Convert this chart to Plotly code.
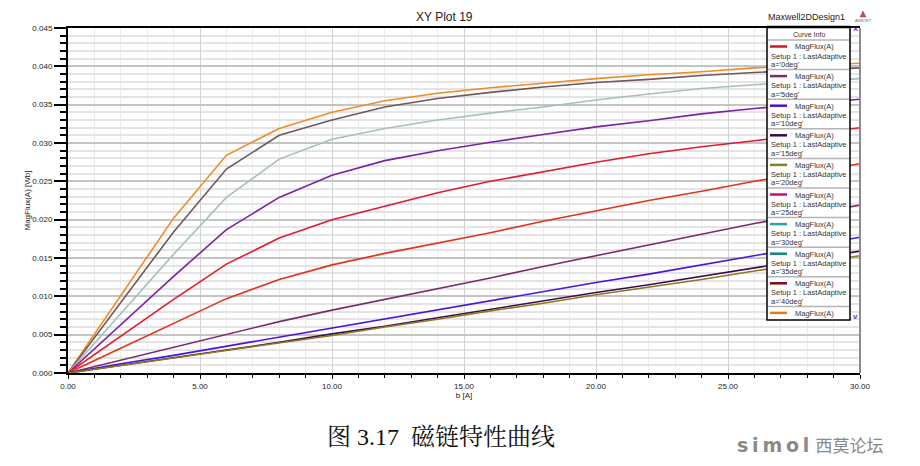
import plotly.graph_objects as go

# ---------------- data ----------------
current_A = [0, 2, 4, 6, 8, 10, 12, 14, 16, 18, 20, 22, 24, 26, 28, 30]

flux_45deg = [0, 0.0101, 0.0202, 0.0284, 0.0319, 0.0340, 0.0355, 0.0365, 0.0372, 0.0378, 0.0384, 0.0389, 0.0393, 0.0398, 0.0401, 0.0404]
flux_40deg = [0, 0.0092, 0.0184, 0.0266, 0.0310, 0.0330, 0.0347, 0.0358, 0.0366, 0.0373, 0.0379, 0.0383, 0.0388, 0.0392, 0.0395, 0.0398]
flux_35deg = [0, 0.0078, 0.0155, 0.0229, 0.0279, 0.0305, 0.0319, 0.0330, 0.0339, 0.0347, 0.0356, 0.0364, 0.0371, 0.0376, 0.0380, 0.0384]
flux_30deg = [0, 0.0063, 0.0126, 0.0187, 0.0229, 0.0258, 0.0277, 0.0290, 0.0301, 0.0311, 0.0321, 0.0329, 0.0338, 0.0345, 0.0351, 0.0357]
flux_0deg = [0, 0.0048, 0.0096, 0.0142, 0.0176, 0.0200, 0.0218, 0.0235, 0.0250, 0.0263, 0.0275, 0.0286, 0.0295, 0.0303, 0.0311, 0.0320]
flux_25deg = [0, 0.0032, 0.0065, 0.0097, 0.0122, 0.0141, 0.0156, 0.0169, 0.0183, 0.0198, 0.0212, 0.0225, 0.0237, 0.0250, 0.0262, 0.0273]
flux_5deg = [0, 0.0017, 0.0034, 0.0051, 0.0067, 0.0082, 0.0096, 0.0110, 0.0124, 0.0139, 0.0153, 0.0167, 0.0181, 0.0195, 0.0207, 0.0219]
flux_10deg = [0, 0.0012, 0.0023, 0.0035, 0.0047, 0.0058, 0.0070, 0.0082, 0.0094, 0.0106, 0.0118, 0.0129, 0.0141, 0.0153, 0.0165, 0.0177]
flux_15deg = [0, 0.0010, 0.0020, 0.0030, 0.0040, 0.0051, 0.0061, 0.0072, 0.0083, 0.0094, 0.0105, 0.0115, 0.0126, 0.0137, 0.0148, 0.0159]
flux_20deg = [0, 0.00098, 0.0020, 0.0029, 0.0039, 0.0049, 0.0060, 0.0070, 0.0081, 0.0091, 0.0102, 0.0112, 0.0122, 0.0133, 0.0143, 0.0153]

series_names = ["a='45deg'", "a='40deg'", "a='35deg'", "a='30deg'", "a='0deg'",
                "a='25deg'", "a='5deg'", "a='10deg'", "a='15deg'", "a='20deg'"]
series_values = [flux_45deg, flux_40deg, flux_35deg, flux_30deg, flux_0deg,
                 flux_25deg, flux_5deg, flux_10deg, flux_15deg, flux_20deg]
series_colors = ["#f08a28", "#6e5858", "#a6bebe", "#7a22a4", "#e41a2e",
                 "#e23418", "#7c2c6c", "#4a14e0", "#3e0c4c", "#8c7a22"]

# legend (Curve Info) entries as shown in the reference box
legend_labels = ["a='0deg'", "a='5deg'", "a='10deg'", "a='15deg'", "a='20deg'",
                 "a='25deg'", "a='30deg'", "a='35deg'", "a='40deg'", ""]
legend_colors = ["#d01424", "#7c2c5c", "#4a10d0", "#3c0a4c", "#828222",
                 "#c8107c", "#28a4a4", "#148484", "#800a14", "#e87818"]

x_ticks = [0, 5, 10, 15, 20, 25, 30]
y_ticks = [0.000, 0.005, 0.010, 0.015, 0.020, 0.025, 0.030, 0.035, 0.040, 0.045]

# ---------------- layout helpers ----------------
W, H = 920, 466
L, R, T, B = 68, 860, 28, 373


def px(x):
    return (x - L) / (R - L)


def py(y):
    return (B - y) / (B - T)


fig = go.Figure()
for name, vals, col in zip(series_names, series_values, series_colors):
    fig.add_trace(go.Scatter(x=current_A, y=vals, mode="lines", name=name,
                             line=dict(color=col, width=1.6), showlegend=False))

font_main = "Liberation Sans, Arial, sans-serif"

fig.update_layout(
    width=W, height=H,
    margin=dict(l=L, r=W - R, t=T, b=H - B),
    paper_bgcolor="white", plot_bgcolor="white",
    font=dict(family=font_main, size=8, color="#222"),
    xaxis=dict(range=[0, 30], tickvals=x_ticks, tickformat=".2f",
               showgrid=True, gridcolor="#d2d2d2", gridwidth=1,
               showline=True, linecolor="black", linewidth=2, mirror=True,
               ticks="outside", ticklen=4, tickwidth=1, tickcolor="black",
               zeroline=False,
               minor=dict(dtick=1, showgrid=True, gridcolor="#ececec", gridwidth=1,
                          ticks="outside", ticklen=3, tickcolor="black", tickwidth=1),
               title=dict(text="b [A]", font=dict(size=8), standoff=2),
               tickfont=dict(size=8)),
    yaxis=dict(range=[0, 0.045], tickvals=y_ticks, tickformat=".3f",
               showgrid=True, gridcolor="#c4c4c4", gridwidth=2,
               showline=True, linecolor="black", linewidth=2,
               ticks="outside", ticklen=12, tickwidth=2, tickcolor="black",
               zeroline=False,
               minor=dict(dtick=0.001, showgrid=True, gridcolor="#e4e4e4", gridwidth=2,
                          ticks="outside", ticklen=6, tickcolor="black", tickwidth=2),
               title=dict(text="MagFlux(A) [Wb]", font=dict(size=8), standoff=1),
               tickfont=dict(size=8)),
)

shapes = []
annotations = []

# right plot border (gray)
shapes.append(dict(type="line", xref="paper", yref="paper", x0=1, x1=1, y0=0, y1=1,
                   line=dict(color="#8c8c8c", width=2)))

# Curve Info box
bx0, bx1, by0, by1 = 767, 850, 27, 320
shapes.append(dict(type="rect", xref="paper", yref="paper",
                   x0=px(bx0), x1=px(bx1), y0=py(by1), y1=py(by0),
                   fillcolor="white", line=dict(color="black", width=1.5)))
shapes.append(dict(type="line", xref="paper", yref="paper",
                   x0=px(bx0), x1=px(bx1), y0=py(by0), y1=py(by0),
                   line=dict(color="black", width=2.5)))
annotations.append(dict(text="Curve Info", xref="paper", yref="paper",
                        x=px((bx0 + bx1) / 2), y=py(34), showarrow=False,
                        font=dict(size=7, color="#333"), xanchor="center", yanchor="middle"))

seps = [40, 69.6, 99.2, 128.8, 158.4, 188.0, 217.6, 247.2, 276.8, 306.4]
for i, (lab, col) in enumerate(zip(legend_labels, legend_colors)):
    s = seps[i]
    shapes.append(dict(type="line", xref="paper", yref="paper",
                       x0=px(bx0 + 1), x1=px(bx1 - 1), y0=py(s), y1=py(s),
                       line=dict(color="#b4b4b4", width=1.5)))
    shapes.append(dict(type="line", xref="paper", yref="paper",
                       x0=px(770), x1=px(787), y0=py(s + 6.5), y1=py(s + 6.5),
                       line=dict(color=col, width=2.5)))
    annotations.append(dict(text="MagFlux(A)", xref="paper", yref="paper",
                            x=px(793), y=py(s + 7), showarrow=False,
                            font=dict(size=7.5, color="#333"), xanchor="left", yanchor="middle"))
    if lab:
        annotations.append(dict(text="Setup 1 : LastAdaptive", xref="paper", yref="paper",
                                x=px(769), y=py(s + 16), showarrow=False,
                                font=dict(size=7.5, color="#333"), xanchor="left", yanchor="middle"))
        annotations.append(dict(text=lab, xref="paper", yref="paper",
                                x=px(769), y=py(s + 24.5), showarrow=False,
                                font=dict(size=7.5, color="#333"), xanchor="left", yanchor="middle"))

# scroll arrows
annotations.append(dict(text="<b>×</b>", xref="paper", yref="paper", x=px(855), y=py(29),
                        showarrow=False, font=dict(size=9, color="#5a3cc0"),
                        xanchor="center", yanchor="middle"))
annotations.append(dict(text="<b>v</b>", xref="paper", yref="paper", x=px(855), y=py(316),
                        showarrow=False, font=dict(size=8, color="#5a3cc0"),
                        xanchor="center", yanchor="middle"))

# titles
annotations.append(dict(text="XY Plot 19", xref="paper", yref="paper",
                        x=px(444), y=py(17), showarrow=False,
                        font=dict(size=12, color="#222"), xanchor="center", yanchor="middle"))
annotations.append(dict(text="Maxwell2DDesign1", xref="paper", yref="paper",
                        x=px(806), y=py(17), showarrow=False,
                        font=dict(size=9, color="#222"), xanchor="center", yanchor="middle"))

# ANSOFT logo
shapes.append(dict(type="path", xref="paper", yref="paper",
                   path="M {} {} L {} {} L {} {} Z".format(px(860), py(17), px(866), py(17), px(863), py(11)),
                   fillcolor="#c05050", line=dict(color="#a04040", width=0.5)))
annotations.append(dict(text="ANSOFT", xref="paper", yref="paper",
                        x=px(863), y=py(20.5), showarrow=False,
                        font=dict(size=4, color="#666"), xanchor="center", yanchor="middle"))

# caption
annotations.append(dict(text="图 3.17  磁链特性曲线", xref="paper", yref="paper",
                        x=px(441), y=py(437), showarrow=False,
                        font=dict(size=24, color="#111",
                                  family="Liberation Serif, Noto Serif CJK SC, Noto Sans CJK SC, serif"),
                        xanchor="center", yanchor="middle"))

# watermark
annotations.append(dict(text="<b>s\u2009i\u2009m\u2009o\u2009l</b> <span style='font-size:17px'>西莫论坛</span>",
                        xref="paper", yref="paper", x=px(810), y=py(445), showarrow=False,
                        font=dict(size=19, color="#8a8a8a",
                                  family="DejaVu Sans, Noto Sans CJK SC, sans-serif"),
                        xanchor="center", yanchor="middle"))

fig.update_layout(shapes=shapes, annotations=annotations)
fig.write_html("out.html", config={"displayModeBar": False},
               post_script="document.body.style.margin='0';document.body.style.overflow='hidden';")
